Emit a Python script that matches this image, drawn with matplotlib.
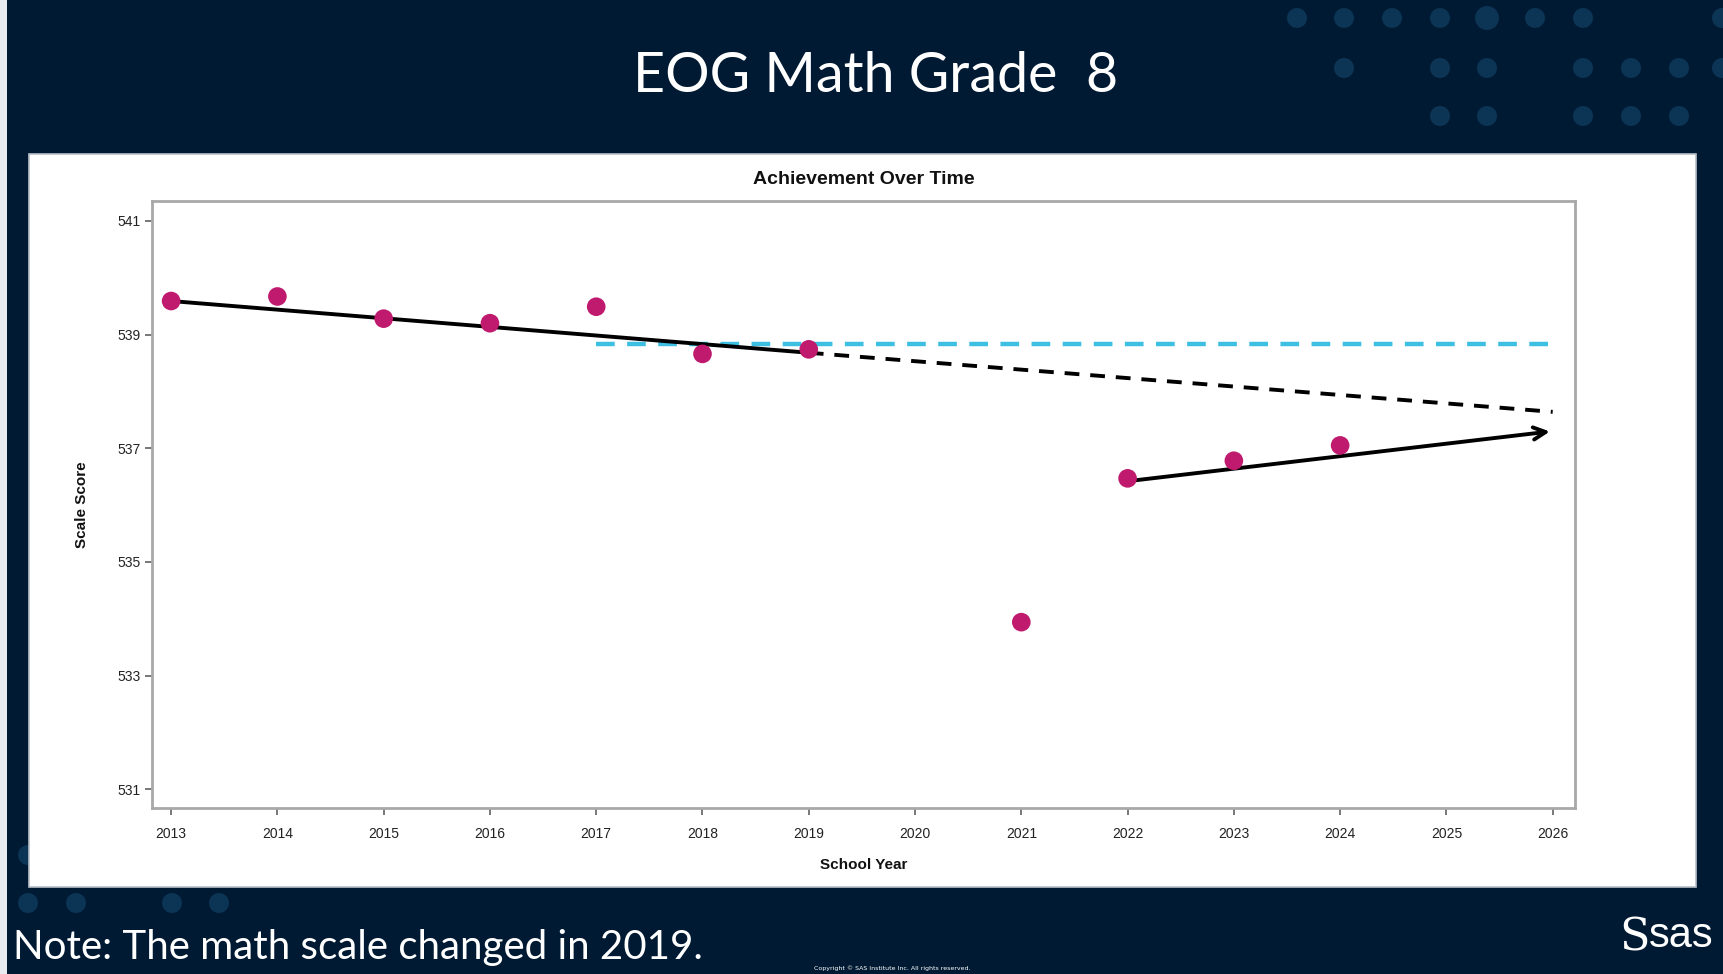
import matplotlib
matplotlib.use("Agg")
import matplotlib.pyplot as plt
from matplotlib.patches import Rectangle, Ellipse

# data
years = [2013, 2014, 2015, 2016, 2017, 2018, 2019, 2021, 2022, 2023, 2024]
scores = [539.59, 539.67, 539.28, 539.20, 539.49, 538.66, 538.74, 533.94, 536.47, 536.78, 537.05]

pre_trend_x = [2013, 2019]
pre_trend_y = [539.59, 538.68]
proj_x = [2019, 2026]
proj_y = [538.68, 537.64]
ref_x = [2017, 2026]
ref_y = [538.83, 538.83]
post_trend_x = [2022, 2026]
post_trend_y = [536.42, 537.30]

x_ticks = list(range(2013, 2027))
y_ticks = [531, 533, 535, 537, 539, 541]

navy = "#011a33"
dot_col = "#0c3454"
magenta = "#bf1a6e"
cyan = "#3cbfe0"

W, H = 1723, 974
fig = plt.figure(figsize=(W / 100, H / 100), dpi=100, facecolor=navy)

# decorative dots (pixel coords -> figure fraction)
dots = [(1297, 18), (1344, 18), (1392, 18), (1440, 18), (1487, 18), (1535, 18), (1583, 18), (1722, 18),
        (1344, 68), (1440, 68), (1487, 68), (1583, 68), (1631, 68), (1679, 68), (1722, 68),
        (1440, 116), (1487, 116), (1583, 116), (1631, 116), (1679, 116),
        (28, 855), (28, 903), (76, 903), (172, 903), (219, 903)]
for px, py in dots:
    r = 12 if (px, py) == (1487, 18) else 10
    fig.patches.append(Ellipse((px / W, 1 - py / H), 2 * r / W, 2 * r / H,
                               transform=fig.transFigure, facecolor=dot_col,
                               edgecolor="none", zorder=0))

# white strip on the left edge and white panel
fig.patches.append(Rectangle((0, 0), 7 / W, 1, transform=fig.transFigure,
                             facecolor="#e8ecf0", edgecolor="none", zorder=0))
fig.patches.append(Rectangle((29 / W, 1 - 887 / H), (1696 - 29) / W, (887 - 154) / H,
                             transform=fig.transFigure, facecolor="white",
                             edgecolor="#b8c0c8", linewidth=1.2, zorder=0.5))

fig.text(0.508, 1 - 77 / H, "EOG Math Grade  8", color="white", fontsize=40,
         family="Lato", ha="center", va="center")
fig.text(13 / W, 1 - 947 / H, "Note: The math scale changed in 2019.", color="white",
         fontsize=29, family="Lato", ha="left", va="center")
fig.text(892 / W, 1 - 968 / H, "Copyright © SAS Institute Inc. All rights reserved.",
         color="white", fontsize=4.5, ha="center", va="center")
fig.text(1714 / W, 1 - 936 / H, "sas", color="white", fontsize=30, family="Liberation Sans",
         ha="right", va="center")
fig.text(1650 / W, 1 - 938 / H, "S", color="white", fontsize=32, family="DejaVu Serif",
         ha="right", va="center")

ax = fig.add_axes([152 / W, 1 - 808 / H, (1575 - 152) / W, (808 - 201) / H])
ax.set_zorder(2)
ax.set_facecolor("white")

ax.plot(pre_trend_x, pre_trend_y, color="black", lw=2.8, zorder=3)
ax.plot(proj_x, proj_y, color="black", lw=2.8, ls=(0, (3.8, 2.8)), zorder=3)
ax.plot(ref_x, ref_y, color=cyan, lw=3.2, ls=(0, (4.2, 2.8)), zorder=2)
ax.annotate("", xy=(post_trend_x[1], post_trend_y[1]), xytext=(post_trend_x[0], post_trend_y[0]),
            arrowprops=dict(arrowstyle="->", color="black", lw=2.8, mutation_scale=22), zorder=3)
ax.scatter(years, scores, s=180, color=magenta, edgecolors="none", zorder=4)

ax.set_xlim(2012.82, 2026.21)
ax.set_ylim(530.67, 541.35)
ax.set_xticks(x_ticks)
ax.set_yticks(y_ticks)
ax.tick_params(axis="both", colors="#606060", labelcolor="#222222", labelsize=10,
               length=5, width=1.2)
ax.tick_params(axis="x", pad=9)
for lab in ax.get_xticklabels() + ax.get_yticklabels():
    lab.set_family("Liberation Sans")
for s in ax.spines.values():
    s.set_color("#a8a8a8")
    s.set_linewidth(2)

ax.set_title("Achievement Over Time", fontsize=14, fontweight="bold",
             family="Liberation Sans", color="#111111", pad=12)
ax.set_xlabel("School Year", fontsize=11, fontweight="bold", family="Liberation Sans",
              color="#111111", labelpad=12)
ax.set_ylabel("Scale Score", fontsize=11, fontweight="bold", family="Liberation Sans",
              color="#111111", labelpad=20)

fig.savefig("out.png", dpi=100, facecolor=navy)
